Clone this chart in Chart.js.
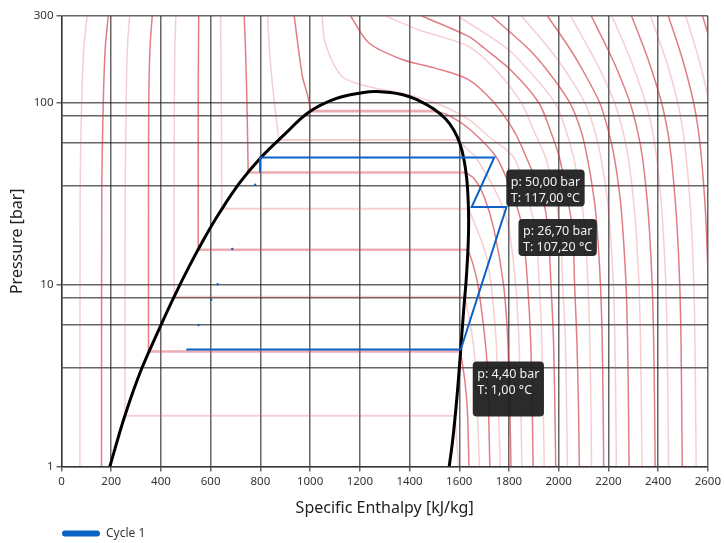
<!DOCTYPE html>
<html>
<head>
<meta charset="utf-8">
<title>Ammonia p-h diagram</title>
<script src="https://cdn.jsdelivr.net/npm/chart.js@4.4.0/dist/chart.umd.min.js"></script>
<style>
  html, body { margin: 0; padding: 0; background: #fff; }
</style>
</head>
<body>
<canvas id="ph-chart" width="724" height="543"></canvas>
<script>
// saturation dome, enthalpy [kJ/kg] and pressure [bar]
const domeH = [194.5, 254.6, 318.7, 394.9, 455.1, 515.2, 575.3, 635.5, 715.7, 795.9, 896.1, 996.3,
               1103.4, 1208.8, 1269, 1369.2, 1437.4, 1497.5, 1545.6, 1577.7, 1601.7, 1617.8,
               1629.8, 1635.8, 1637.8, 1635.8, 1627.8, 1617.8, 1605.8, 1589.7, 1573.7, 1559.6]
const domeP = [1, 1.896, 3.351, 5.776, 8.695, 12.72, 18.05, 24.83, 36.13, 48.97, 66.77, 88.99,
               105.4, 113.5, 115.3, 111.1, 102.9, 92.43, 81.43, 70.84, 60.09, 49.7,
               38.59, 29.2, 22.67, 16.52, 10.6, 7.254, 4.371, 2.321, 1.398, 1]

// Cycle 1
const cycleH = [502, 1606, 1790, 1650, 1741, 799, 799]
const cycleP = [4.4, 4.4, 26.7, 26.7, 50, 50, 41.2]
// throttling trace, only a few dots survive
const throttleH = [779, 687, 628, 602, 551]
const throttleP = [35.4, 15.7, 10.06, 8.25, 6.0]

// labelled states: index into the cycle + temperature [°C]
const stateIdx = [4, 2, 1]
const stateT = [117, 107.2, 1]

// pressure grid
const yTicks = [1, 3.5, 6, 8.5, 10, 35, 60, 85, 100, 300]
const yLabels = [1, 10, 100, 300]

// isotherms [°C]
const isoT = [-60, -40, -20, 0, 20, 40, 60, 80, 100, 120, 140, 160, 180, 200,
              220, 240, 260, 280, 300, 320, 340, 360, 380, 400, 420, 440]
const hotP = [300, 200, 150, 100, 70, 50, 30, 20, 10, 5, 2, 1]
const isoH = [
  [103, 90, 81, 75, 74],
  [188, 176, 168, 162, 161],
  [274, 265, 260, 256, 255, 1583, 1597],
  [365, 356, 351, 350, 350, 1605, 1622, 1633, 1639],
  [460, 456, 454, 453, 453, 1622, 1645, 1662, 1673, 1681],
  [552, 551, 550, 550, 1635, 1655, 1675, 1697, 1710, 1718, 1723],
  [640, 641, 643, 645, 1638, 1672, 1705, 1728, 1748, 1758, 1765],
  [735, 740, 746, 751, 1626, 1662, 1702, 1740, 1778, 1795, 1804, 1808],
  [829, 836, 850, 874, 1596, 1630, 1667, 1759, 1800, 1827, 1840, 1848, 1852],
  [936, 969, 990, 1003, 1508, 1560, 1650, 1750, 1820, 1855, 1875, 1887, 1894, 1897],
  [1048, 1061, 1127, 1233, 1369, 1503, 1637, 1720, 1820, 1875, 1907, 1922, 1932, 1938, 1942],
  [1163, 1237, 1370, 1503, 1637, 1740, 1820, 1870, 1935, 1957, 1969, 1979, 1985, 1988],
  [1303, 1436, 1637, 1750, 1850, 1900, 1947, 1985, 2007, 2016, 2027, 2032, 2035],
  [1449, 1637, 1700, 1810, 1920, 1967, 2003, 2035, 2056, 2064, 2073, 2080, 2083],
  [1595, 1790, 1880, 1985, 2030, 2060, 2090, 2105, 2118, 2125, 2130, 2132],
  [1730, 1875, 1955, 2045, 2090, 2115, 2142, 2155, 2168, 2175, 2179, 2181],
  [1850, 1960, 2027, 2105, 2145, 2170, 2195, 2207, 2220, 2226, 2230, 2232],
  [1955, 2043, 2098, 2165, 2200, 2224, 2247, 2258, 2271, 2277, 2281, 2283],
  [2048, 2120, 2168, 2225, 2258, 2280, 2300, 2311, 2323, 2329, 2333, 2335],
  [2131, 2195, 2237, 2287, 2317, 2337, 2355, 2365, 2376, 2382, 2386, 2388],
  [2214, 2270, 2306, 2350, 2377, 2394, 2411, 2420, 2431, 2436, 2440, 2442],
  [2293, 2343, 2375, 2414, 2438, 2453, 2468, 2477, 2487, 2492, 2495, 2497],
  [2369, 2415, 2445, 2479, 2500, 2513, 2527, 2535, 2544, 2548, 2551, 2553],
  [2441, 2484, 2511, 2543, 2562, 2574, 2587, 2594, 2602, 2605, 2608, 2609],
  [2511, 2551, 2576, 2605, 2623, 2634, 2646, 2652, 2659, 2662, 2665, 2666],
  [2579, 2617, 2640, 2667, 2683, 2693, 2704, 2710, 2717, 2720, 2723, 2724]
]
const isoP = [
  [300, 200, 100, 30, 1],
  [300, 200, 100, 30, 1],
  [300, 200, 100, 30, 1.9, 1.9, 1],
  [300, 200, 100, 30, 4.29, 4.29, 3, 2, 1],
  [300, 200, 100, 30, 8.57, 8.57, 6, 4, 2, 1],
  [300, 200, 100, 15.55, 15.55, 13, 10, 6, 4, 2, 1],
  [300, 200, 100, 26.1, 26.1, 20, 15, 10, 5, 2, 1],
  [300, 200, 100, 41.4, 41.4, 38, 30, 20, 10, 5, 2, 1],
  [300, 200, 120, 62.5, 62.5, 56, 50, 30, 20, 10, 5, 2, 1],
  [300, 140, 110, 90, 90, 85, 70, 50, 30, 20, 10, 5, 2, 1],
  [300, 213, 140, 123, 113, 100, 81, 65, 50, 30, 20, 10, 5, 2, 1],
  [300, 213, 173, 155, 134, 100, 70, 50, 30, 20, 10, 5, 2, 1],
  [300, 252, 204, 150, 100, 70, 50, 30, 20, 10, 5, 2, 1],
  [300, 232, 200, 150, 100, 70, 50, 30, 20, 10, 5, 2, 1],
  hotP, hotP, hotP, hotP, hotP, hotP, hotP, hotP, hotP, hotP, hotP, hotP
]

const FONT = "'Segoe UI', 'Noto Sans', sans-serif"
const GRID = 'rgba(30,30,30,0.68)'
const BLUE = '#0b62c4'

const fmt = v => v.toFixed(2).replace('.', ',')

// repeat both ends of a two-phase plateau so the spline keeps its corners sharp
function isoPoints(hs, ps) {
  const pts = []
  hs.forEach((h, i) => {
    pts.push({x: h, y: ps[i]})
    if (ps[i] === ps[i - 1] || ps[i] === ps[i + 1]) pts.push({x: h, y: ps[i]})
  })
  return pts
}

const datasets = [
  {
    label: 'Cycle 1',
    data: cycleH.map((h, i) => ({x: h, y: cycleP[i]})),
    showLine: true, borderColor: BLUE, borderWidth: 2, pointRadius: 0, tension: 0
  },
  {
    label: 'throttle',
    data: throttleH.map((h, i) => ({x: h, y: throttleP[i]})),
    showLine: false, pointRadius: 1.2, pointBorderWidth: 0, backgroundColor: BLUE
  },
  {
    label: 'saturation',
    data: domeH.map((h, i) => ({x: h, y: domeP[i]})),
    showLine: true, borderColor: '#000', borderWidth: 3, pointRadius: 0, tension: 0.4
  }
]

isoT.forEach((t, k) => {
  const dark = t % 40 === 0
  const flat = c => c.p0.parsed.y === c.p1.parsed.y
  datasets.push({
    label: t + ' °C',
    data: isoPoints(isoH[k], isoP[k]),
    showLine: true,
    borderColor: dark ? 'rgba(205,45,60,0.62)' : 'rgba(220,80,95,0.28)',
    borderWidth: 1.5,
    // the flat two-phase stretch is wider and paler
    segment: {
      borderWidth: c => flat(c) ? (dark ? 2.6 : 2) : undefined,
      borderColor: c => flat(c) ? (dark ? 'rgba(215,70,85,0.45)' : 'rgba(225,95,110,0.3)') : undefined
    },
    pointRadius: 0,
    tension: 0.3
  })
})

// dark boxes with p/T of the labelled states, plus the legend entry
const overlays = {
  id: 'overlays',
  afterDatasetsDraw(chart) {
    const {ctx, scales: {x, y}} = chart
    const boxH = [37, 37, 55]
    ctx.save()
    ctx.font = '12.5px ' + FONT
    ctx.textBaseline = 'middle'
    stateIdx.forEach((idx, k) => {
      const px = x.getPixelForValue(cycleH[idx])
      const py = y.getPixelForValue(cycleP[idx])
      const lines = ['p: ' + fmt(cycleP[idx]) + ' bar', 'T: ' + fmt(stateT[k]) + ' °C']
      const w = Math.max(...lines.map(l => ctx.measureText(l).width)) + 9
      const bx = px + 12, by = py + 12
      ctx.fillStyle = 'rgba(32,32,32,0.95)'
      ctx.beginPath()
      ctx.roundRect(bx, by, w, boxH[k], 4)
      ctx.fill()
      ctx.fillStyle = '#f2f2f2'
      lines.forEach((l, j) => ctx.fillText(l, bx + 4.5, by + 12.5 + j * 16))
    })
    ctx.restore()
  },
  afterDraw(chart) {
    const ctx = chart.ctx
    ctx.save()
    ctx.strokeStyle = BLUE
    ctx.lineWidth = 6
    ctx.lineCap = 'round'
    ctx.beginPath()
    ctx.moveTo(65, 533.5)
    ctx.lineTo(97, 533.5)
    ctx.stroke()
    ctx.fillStyle = '#333'
    ctx.font = '12px ' + FONT
    ctx.textBaseline = 'middle'
    ctx.fillText('Cycle 1', 106, 533.5)
    ctx.restore()
  }
}

new Chart(document.getElementById('ph-chart'), {
  type: 'scatter',
  data: { datasets },
  options: {
    responsive: false,
    animation: false,
    devicePixelRatio: 1,
    events: [],
    layout: { padding: { top: 16, right: 14, bottom: 0, left: 0 } },
    plugins: {
      legend: { display: false },
      tooltip: { enabled: false }
    },
    scales: {
      x: {
        type: 'linear',
        min: 0,
        max: 2600,
        afterFit: s => { s.height = 76.5 },
        ticks: {
          stepSize: 200, autoSkip: false, maxRotation: 0, padding: 3, color: '#333', font: { size: 11.5, family: FONT },
          callback: v => String(v)
        },
        grid: { color: GRID, lineWidth: 1.5, tickLength: 5, tickColor: GRID },
        border: { color: GRID, width: 1.5 },
        title: { display: true, text: 'Specific Enthalpy [kJ/kg]', color: '#222', font: { size: 16, family: FONT }, padding: { top: 0, bottom: 25 } }
      },
      y: {
        type: 'logarithmic',
        min: 1,
        max: 300,
        afterFit: s => { s.width = 61.5 },
        afterBuildTicks: s => { s.ticks = yTicks.map(v => ({ value: v })) },
        ticks: {
          autoSkip: false, padding: 3, color: '#333', font: { size: 11.5, family: FONT },
          callback: v => yLabels.includes(v) ? String(v) : ''
        },
        grid: {
          color: GRID, lineWidth: 1.5, tickLength: 5,
          tickColor: c => (c.tick && yLabels.includes(c.tick.value)) ? GRID : 'rgba(0,0,0,0)'
        },
        border: { color: GRID, width: 1.5 },
        title: { display: true, text: 'Pressure [bar]', color: '#222', font: { size: 16, family: FONT }, padding: { top: 8, bottom: 0 } }
      }
    }
  },
  plugins: [overlays]
})
</script>
</body>
</html>
